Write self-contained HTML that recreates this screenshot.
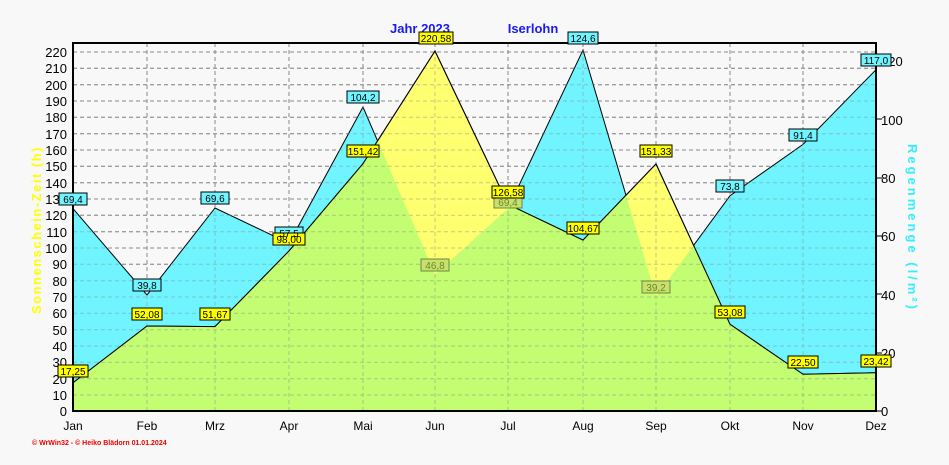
<!DOCTYPE html>
<html><head><meta charset="utf-8"><style>
body{margin:0;background:#f8f8f8;}
svg{display:block;font-family:"Liberation Sans",sans-serif;}
</style></head><body>
<svg width="949" height="465" viewBox="0 0 949 465" xmlns="http://www.w3.org/2000/svg">
<rect width="949" height="465" fill="#f8f8f8"/>
<defs>
<clipPath id="rainclip"><polygon points="73,411 73,208.6 147,294.9 215,208 289,243.3 363,107 435,274.5 508,208.6 583,50 656,296.7 730,195.7 803,144.4 876,69.7 876,411"/></clipPath>
<g id="grid">
<line x1="73" x2="876" y1="52" y2="52"/><line x1="73" x2="876" y1="68.3" y2="68.3"/><line x1="73" x2="876" y1="84.7" y2="84.7"/><line x1="73" x2="876" y1="101" y2="101"/><line x1="73" x2="876" y1="117.3" y2="117.3"/><line x1="73" x2="876" y1="133.7" y2="133.7"/><line x1="73" x2="876" y1="150" y2="150"/><line x1="73" x2="876" y1="166.3" y2="166.3"/><line x1="73" x2="876" y1="182.7" y2="182.7"/><line x1="73" x2="876" y1="199" y2="199"/><line x1="73" x2="876" y1="215.3" y2="215.3"/><line x1="73" x2="876" y1="231.7" y2="231.7"/><line x1="73" x2="876" y1="248" y2="248"/><line x1="73" x2="876" y1="264.3" y2="264.3"/><line x1="73" x2="876" y1="280.7" y2="280.7"/><line x1="73" x2="876" y1="297" y2="297"/><line x1="73" x2="876" y1="313.3" y2="313.3"/><line x1="73" x2="876" y1="329.7" y2="329.7"/><line x1="73" x2="876" y1="346" y2="346"/><line x1="73" x2="876" y1="362.3" y2="362.3"/><line x1="73" x2="876" y1="378.7" y2="378.7"/><line x1="73" x2="876" y1="395" y2="395"/>
<line x1="147" x2="147" y1="43" y2="411"/><line x1="215" x2="215" y1="43" y2="411"/><line x1="289" x2="289" y1="43" y2="411"/><line x1="363" x2="363" y1="43" y2="411"/><line x1="435" x2="435" y1="43" y2="411"/><line x1="508" x2="508" y1="43" y2="411"/><line x1="583" x2="583" y1="43" y2="411"/><line x1="656" x2="656" y1="43" y2="411"/><line x1="730" x2="730" y1="43" y2="411"/><line x1="803" x2="803" y1="43" y2="411"/>
</g>
</defs>
<g stroke="#888" stroke-dasharray="4,3" stroke-width="1"><use href="#grid"/></g>
<polygon points="73,411 73,208.6 147,294.9 215,208 289,243.3 363,107 435,274.5 508,208.6 583,50 656,296.7 730,195.7 803,144.4 876,69.7 876,411" fill="#70f4ff" stroke="#000" stroke-width="1"/>
<polygon points="73,411 73,382.8 147,326 215,326.6 289,251 363,163.7 435,51 508,204.3 583,240.1 656,163.9 730,324.3 803,374.3 876,372.8 876,411" fill="#ffff70" stroke="#000" stroke-width="1"/>
<polygon clip-path="url(#rainclip)" points="73,411 73,382.8 147,326 215,326.6 289,251 363,163.7 435,51 508,204.3 583,240.1 656,163.9 730,324.3 803,374.3 876,372.8 876,411" fill="#c2fd72"/>
<g stroke="#888" stroke-dasharray="4,3" stroke-width="1" opacity="0.45"><use href="#grid"/></g>
<polyline points="73,382.8 147,326 215,326.6 289,251 363,163.7 435,51 508,204.3 583,240.1 656,163.9 730,324.3 803,374.3 876,372.8" fill="none" stroke="#000" stroke-width="1"/>
<rect x="73" y="43" width="803" height="368" fill="none" stroke="#000" stroke-width="2"/>
<g font-size="13" text-anchor="end" fill="#000">
<text x="67" y="416">0</text><text x="67" y="400">10</text><text x="67" y="384">20</text><text x="67" y="367">30</text><text x="67" y="351">40</text><text x="67" y="335">50</text><text x="67" y="318">60</text><text x="67" y="302">70</text><text x="67" y="286">80</text><text x="67" y="269">90</text><text x="67" y="253">100</text><text x="67" y="237">110</text><text x="67" y="220">120</text><text x="67" y="204">130</text><text x="67" y="188">140</text><text x="67" y="171">150</text><text x="67" y="155">160</text><text x="67" y="139">170</text><text x="67" y="122">180</text><text x="67" y="106">190</text><text x="67" y="90">200</text><text x="67" y="73">210</text><text x="67" y="57">220</text>
</g>
<g font-size="13" fill="#000">
<text x="881" y="416">0</text><text x="881" y="358">20</text><text x="881" y="300">40</text><text x="881" y="241">60</text><text x="881" y="183">80</text><text x="881" y="125">100</text><text x="881" y="66">120</text>
</g>
<g stroke="#000">
<line x1="876" x2="882" y1="411" y2="411"/><line x1="876" x2="882" y1="353" y2="353"/><line x1="876" x2="882" y1="294" y2="294"/><line x1="876" x2="882" y1="236" y2="236"/><line x1="876" x2="882" y1="178" y2="178"/><line x1="876" x2="882" y1="119" y2="119"/><line x1="876" x2="882" y1="61" y2="61"/>
</g>
<g font-size="12" text-anchor="middle" fill="#000">
<text x="73" y="430">Jan</text><text x="147" y="430">Feb</text><text x="215" y="430">Mrz</text><text x="289" y="430">Apr</text><text x="363" y="430">Mai</text><text x="435" y="430">Jun</text><text x="508" y="430">Jul</text><text x="583" y="430">Aug</text><text x="656" y="430">Sep</text><text x="730" y="430">Okt</text><text x="803" y="430">Nov</text><text x="876" y="430">Dez</text>
</g>
<text x="420" y="33" font-size="13" font-weight="bold" fill="#1a1aee" text-anchor="middle">Jahr  2023</text>
<text x="533" y="33" font-size="13" font-weight="bold" fill="#1a1aee" text-anchor="middle">Iserlohn</text>
<text transform="translate(41,230) rotate(-90)" font-size="13" font-weight="bold" fill="#ffff00" text-anchor="middle" letter-spacing="1.5">Sonnenschein-Zeit  (h)</text>
<text transform="translate(908,228) rotate(90)" font-size="13" font-weight="bold" fill="#33eeff" text-anchor="middle" letter-spacing="3">Regenmenge  (l/m²)</text>
<text x="32" y="445" font-size="7" font-weight="bold" fill="#ee0000">© WrWin32  -  © Heiko Blädorn  01.01.2024</text>
<g font-size="10" text-anchor="middle" fill="#000">
<g fill="#70f4ff" stroke="#000" stroke-width="1">
<rect x="59" y="193" width="28" height="12"/><rect x="133" y="279" width="28" height="12"/><rect x="201" y="192" width="28" height="12"/><rect x="275" y="227" width="28" height="12"/><rect x="347" y="91" width="32" height="12"/><rect x="568" y="32" width="30" height="12"/><rect x="716" y="180" width="28" height="12"/><rect x="789" y="129" width="28" height="12"/><rect x="861" y="54" width="30" height="12"/>
</g>
<g fill="#c8e070" stroke="#6a8a40" stroke-width="1">
<rect x="421" y="259" width="28" height="12"/><rect x="494" y="196" width="28" height="12"/><rect x="642" y="281" width="28" height="12"/>
</g>
<g fill="#ffff00" stroke="#000" stroke-width="1">
<rect x="58" y="365" width="30" height="12"/><rect x="132" y="308" width="30" height="12"/><rect x="200" y="308" width="30" height="12"/><rect x="273" y="233" width="32" height="12"/><rect x="347" y="145" width="32" height="12"/><rect x="419" y="32" width="34" height="12"/><rect x="492" y="186" width="32" height="12"/><rect x="567" y="222" width="32" height="12"/><rect x="640" y="145" width="32" height="12"/><rect x="715" y="306" width="30" height="12"/><rect x="788" y="356" width="30" height="12"/><rect x="861" y="355" width="30" height="12"/>
</g>
<text x="73" y="203">69,4</text><text x="147" y="289">39,8</text><text x="215" y="202">69,6</text><text x="289" y="237">57,5</text><text x="363" y="101">104,2</text><text x="583" y="42">124,6</text><text x="730" y="190">73,8</text><text x="803" y="139">91,4</text><text x="876" y="64">117,0</text>
<g fill="#6a8a20"><text x="435" y="269">46,8</text><text x="508" y="206">69,4</text><text x="656" y="291">39,2</text></g>
<text x="73" y="375">17,25</text><text x="147" y="318">52,08</text><text x="215" y="318">51,67</text><text x="289" y="243">98,00</text><text x="363" y="155">151,42</text><text x="436" y="42">220,58</text><text x="508" y="196">126,58</text><text x="583" y="232">104,67</text><text x="656" y="155">151,33</text><text x="730" y="316">53,08</text><text x="803" y="366">22,50</text><text x="876" y="365">23,42</text>
</g>
</svg>
</body></html>
